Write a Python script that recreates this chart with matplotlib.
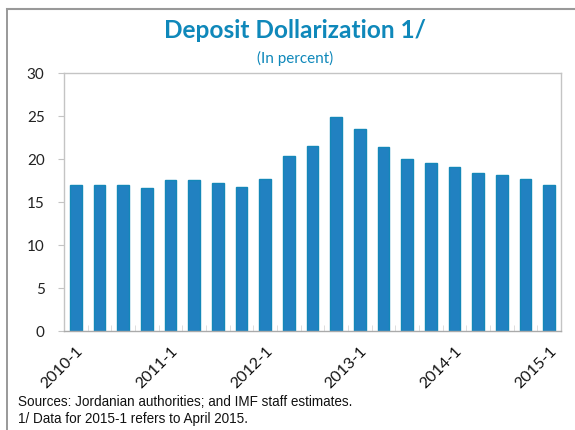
import matplotlib.pyplot as plt
from matplotlib.lines import Line2D

# quarterly data, 2010-1 .. 2015-1
quarters = ["%d-%d" % (y, q) for y in range(2010, 2016) for q in range(1, 5)][:21]
values = [17.0, 16.9, 16.9, 16.6, 17.5, 17.5, 17.2, 16.7, 17.7, 20.3,
          21.5, 24.9, 23.5, 21.35, 19.95, 19.55, 19.1, 18.35, 18.1, 17.6, 16.9]
label_quarters = ["2010-1", "2011-1", "2012-1", "2013-1", "2014-1", "2015-1"]
yticks = [0, 5, 10, 15, 20, 25, 30]

title_col = '#0f88ba'
grid_col = '#c4c4c4'

fig = plt.figure(figsize=(5.75, 4.31), dpi=100, facecolor='white')
ax = fig.add_axes([64/575, 1-331.5/431, 497/575, 257.5/431])

x = list(range(len(quarters)))
ax.bar(x, values, width=0.5, color='#2181c1', edgecolor='#1487b8', linewidth=1.0)

ax.set_xlim(-0.5, len(quarters) - 0.5)
ax.set_ylim(0, 30)
ax.set_yticks(yticks)
ax.tick_params(axis='y', direction='out', length=4, color=grid_col,
               labelsize=11, labelcolor='#222222', pad=10)
for t in ax.get_yticklabels():
    t.set_fontfamily('Lato')

pos = [quarters.index(q) for q in label_quarters]
ax.set_xticks(pos)
ax.set_xticklabels(label_quarters, rotation=45, ha='right', rotation_mode='anchor',
                   fontsize=11.5, family='Lato', color='#111111')
ax.tick_params(axis='x', which='major', length=0, pad=9)
ax.set_xticks([i + 0.5 for i in range(len(quarters) - 1)], minor=True)
ax.tick_params(axis='x', which='minor', direction='in', length=4, color='#d8d8d8')

for s in ax.spines.values():
    s.set_color(grid_col)
    s.set_linewidth(1.0)
ax.spines['bottom'].set_color('#aaaaaa')

fig.text(295/575, 1-30/431, "Deposit Dollarization 1/", ha='center', va='center',
         fontsize=17.6, fontweight='bold', family='Lato', color=title_col)
fig.text(295/575, 1-58/431, "(In percent)", ha='center', va='center',
         fontsize=11, family='Lato', color=title_col)

fig.text(18/575, 1-402/431, "Sources: Jordanian authorities; and IMF staff estimates.",
         ha='left', va='center', fontsize=9.75, family='Liberation Sans', color='#111111')
fig.text(18/575, 1-419/431, "1/ Data for 2015-1 refers to April 2015.",
         ha='left', va='center', fontsize=9.75, family='Liberation Sans', color='#111111')

# outer frame (left and top edges)
fig.add_artist(Line2D([7/575, 7/575], [0, 1-10/431], color='#888888', lw=1.2))
fig.add_artist(Line2D([7/575, 1], [1-10/431, 1-10/431], color='#999999', lw=1.5))

fig.savefig("out.png", dpi=100)
